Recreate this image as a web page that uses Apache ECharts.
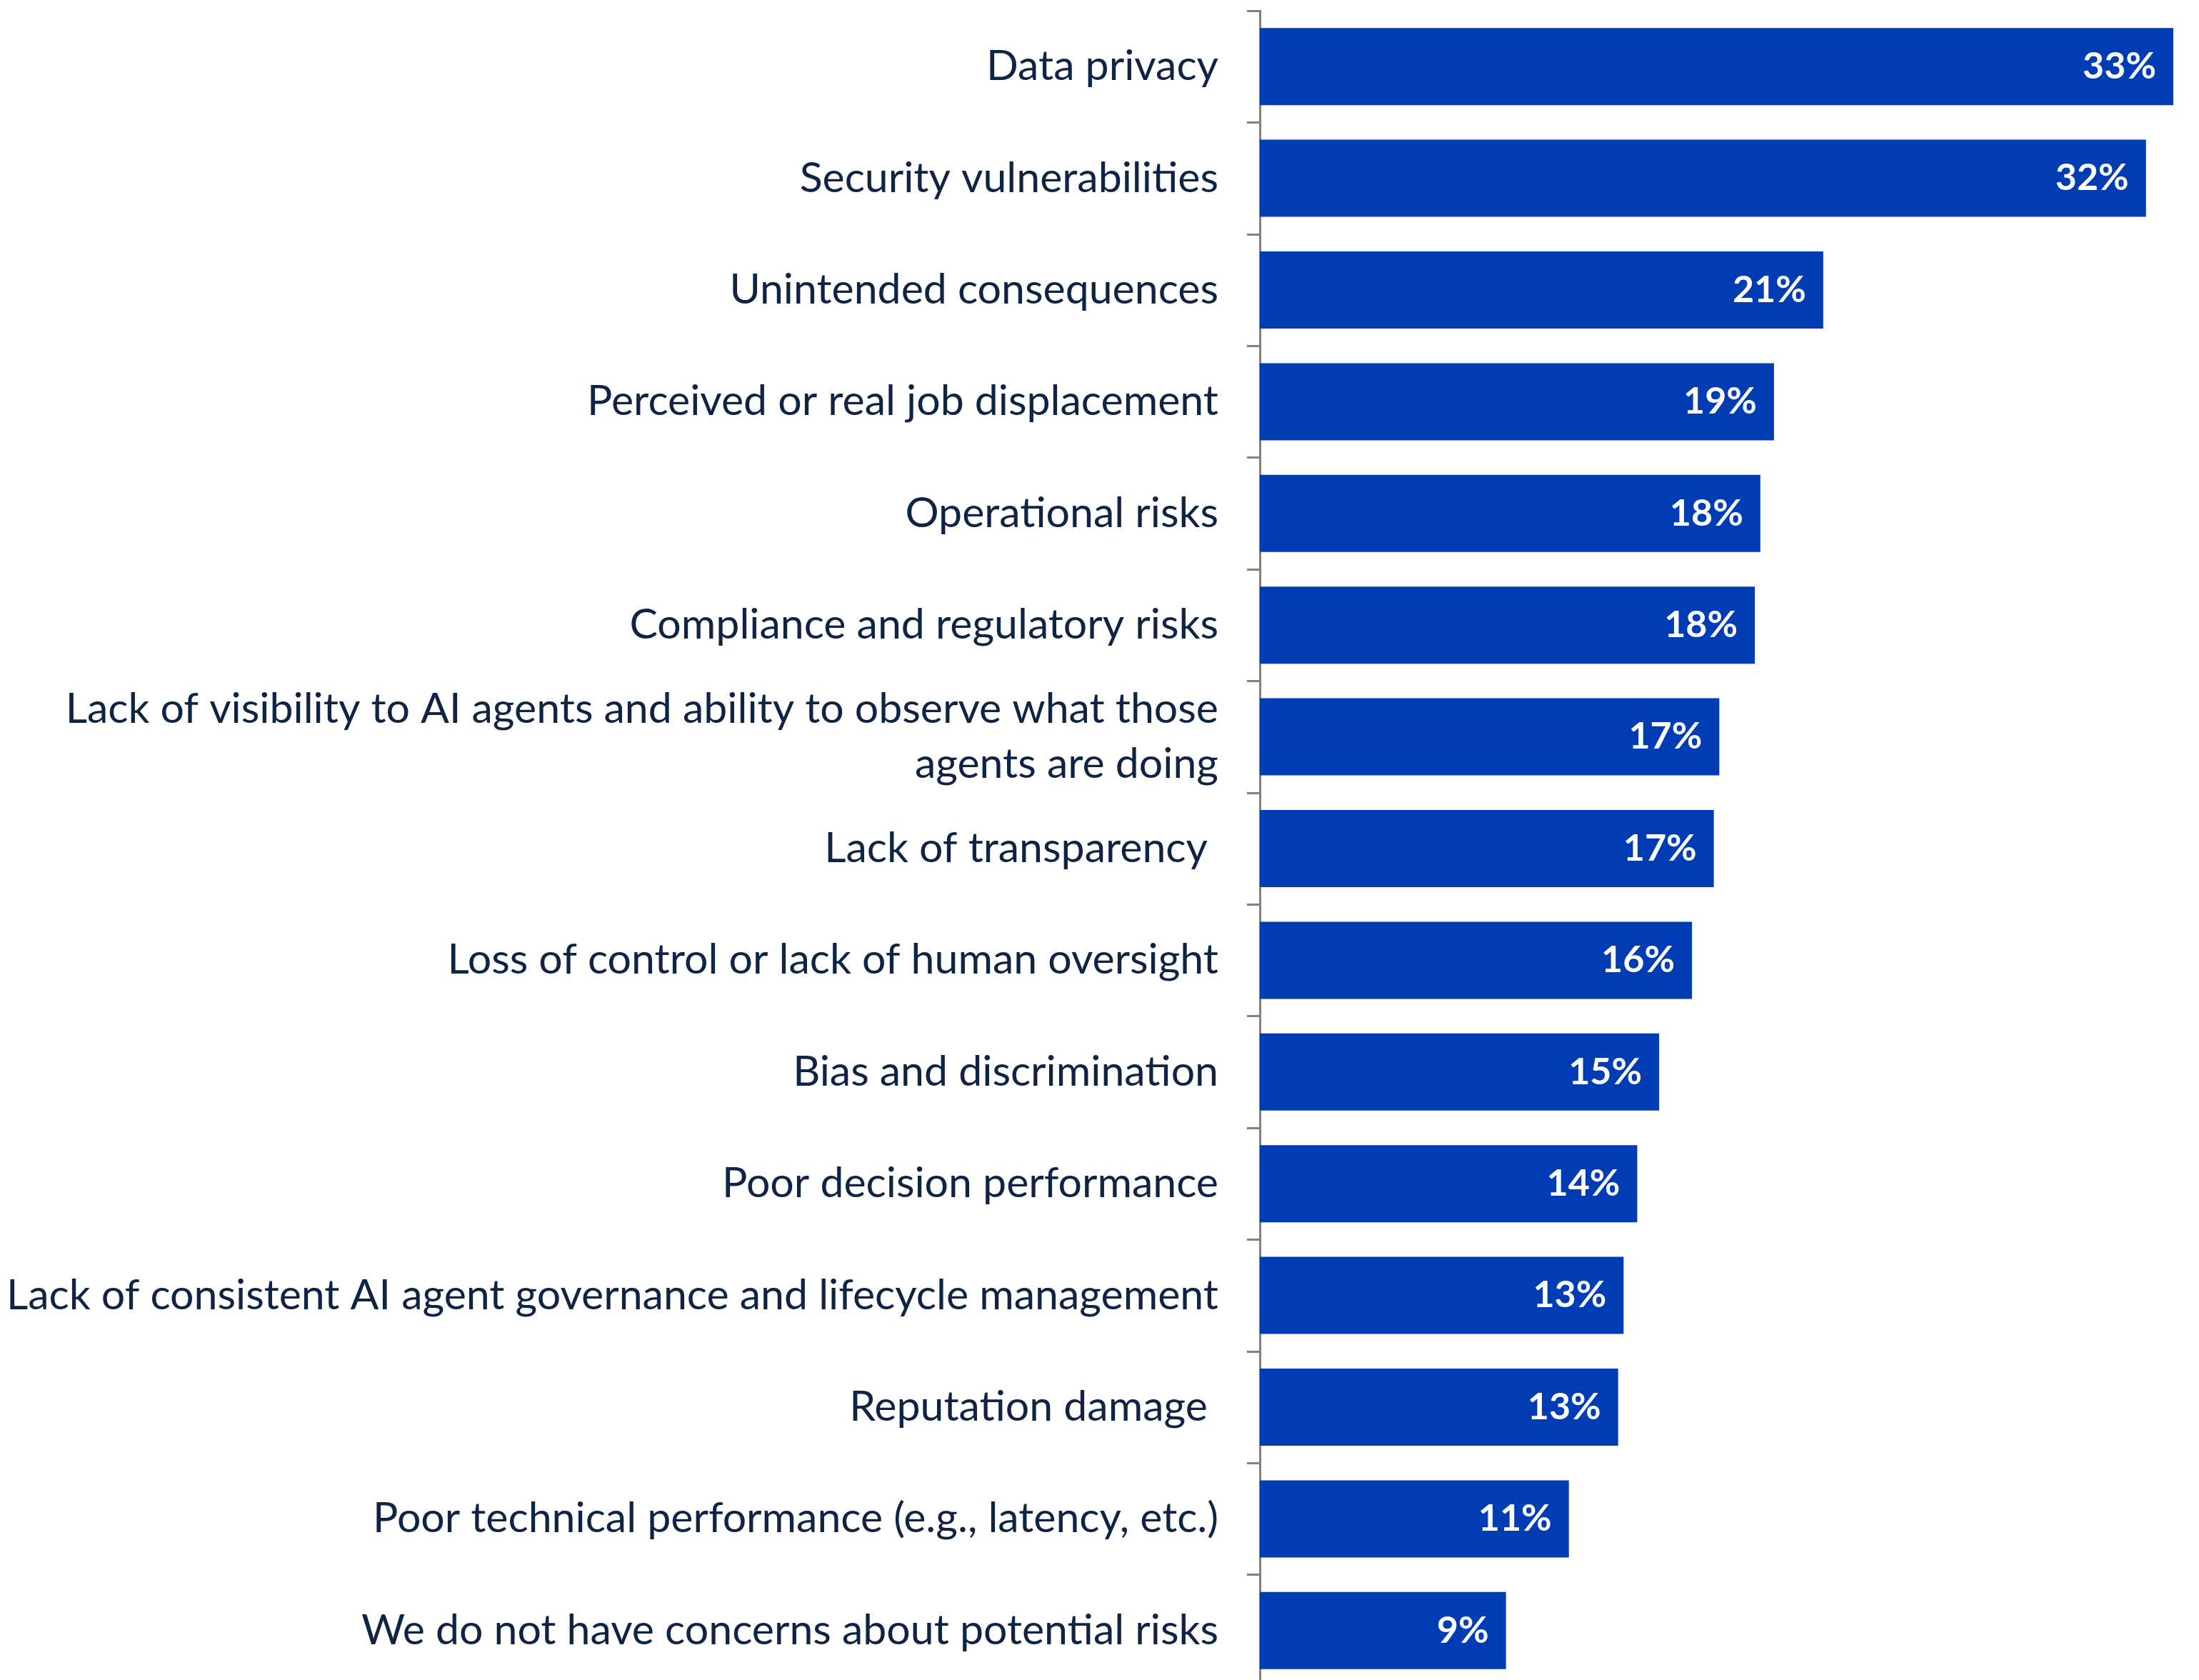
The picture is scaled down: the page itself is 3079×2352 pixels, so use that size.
<!DOCTYPE html>
<html>
<head>
<meta charset="utf-8">
<title>Concerns about AI agents</title>
<script src="https://cdn.jsdelivr.net/npm/echarts@6/dist/echarts.min.js"></script>
<style>
  html, body { margin: 0; padding: 0; background: #ffffff; }
  #chart { width: 3079px; height: 2352px; }
</style>
</head>
<body>
<div id="chart"></div>
<script>
// Share of respondents citing each risk, listed top to bottom
const categories = [
  'Data privacy',
  'Security vulnerabilities',
  'Unintended consequences',
  'Perceived or real job displacement',
  'Operational risks',
  'Compliance and regulatory risks',
  'Lack of visibility to AI agents and ability to observe what those\nagents are doing',
  'Lack of transparency ',
  'Loss of control or lack of human oversight',
  'Bias and discrimination',
  'Poor decision performance',
  'Lack of consistent AI agent governance and lifecycle management',
  'Reputation damage ',
  'Poor technical performance (e.g., latency, etc.)',
  'We do not have concerns about potential risks'
];
const values = [33.4, 32.4, 20.6, 18.8, 18.3, 18.1, 16.8, 16.6, 15.8, 14.6, 13.8, 13.3, 13.1, 11.3, 9.0];

const FONT = 'Lato, "Open Sans", sans-serif';

const chart = echarts.init(document.getElementById('chart'), null, { renderer: 'canvas' });
chart.setOption({
  animation: false,
  backgroundColor: '#ffffff',
  grid: {
    left: 1764, top: 15, width: 1302, height: 2346,
    containLabel: false,
    outerBoundsMode: 'none'
  },
  xAxis: {
    type: 'value',
    min: 0,
    max: 34,
    show: false
  },
  yAxis: {
    type: 'category',
    inverse: true,
    data: categories,
    axisLine: { show: true, lineStyle: { color: '#8a7f77', width: 3 } },
    axisTick: { show: true, length: 18, lineStyle: { color: '#8a7f77', width: 3 } },
    axisLabel: {
      margin: 58,
      color: '#0f2345',
      fontFamily: FONT,
      fontSize: 59,
      lineHeight: 77,
      align: 'right',
      padding: [6, 0, 0, 0]
    },
    splitLine: { show: false }
  },
  series: [{
    type: 'bar',
    data: values,
    barWidth: 108,
    itemStyle: { color: '#003cb4' },
    label: {
      show: true,
      position: 'insideRight',
      distance: 24,
      color: '#ffffff',
      fontFamily: FONT,
      fontWeight: 'bold',
      fontSize: 52,
      padding: [4, 0, 0, 0],
      formatter: p => Math.round(p.value) + '%'
    }
  }]
});
</script>
</body>
</html>
